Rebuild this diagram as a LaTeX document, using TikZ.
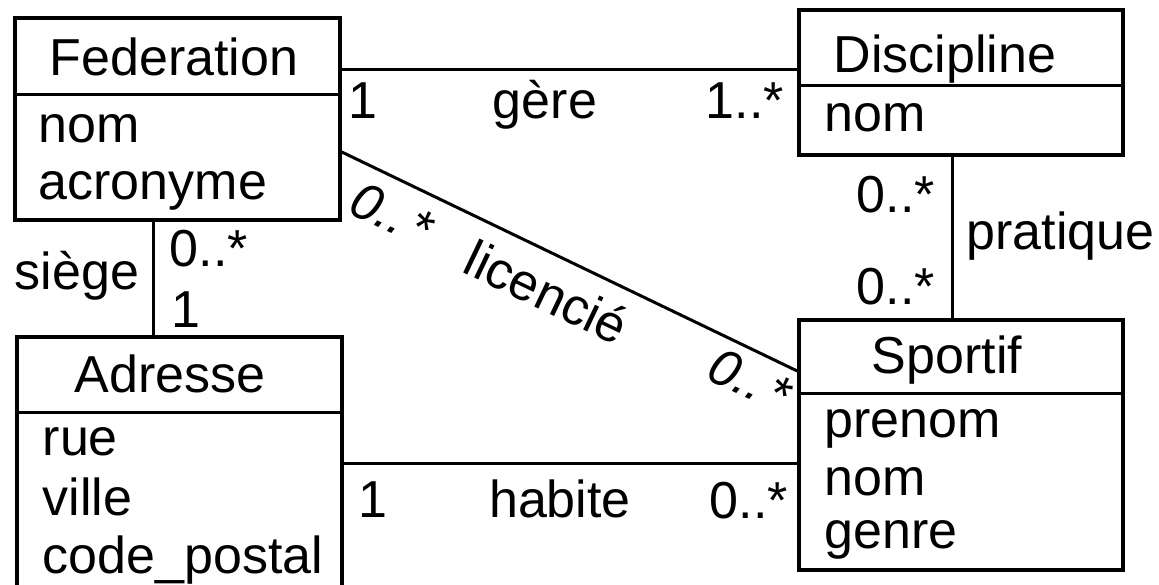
\documentclass[tikz,border=0pt]{standalone}
\usepackage{fontspec}
\setmainfont{Liberation Sans}
\begin{document}
\begin{tikzpicture}[x=1pt,y=-1pt,line width=3.5pt,
  cls/.style={draw,rectangle,inner sep=0pt},
  txt/.style={anchor=base west,inner sep=0pt,font=\fontsize{52}{62}\selectfont},
  ctxt/.style={anchor=base,inner sep=0pt,font=\fontsize{52}{62}\selectfont},
  rtxt/.style={anchor=center,inner sep=0pt,rotate=-25.5,font=\fontsize{52}{62}\selectfont},
  assoc/.style={draw,line width=3pt}]
\useasboundingbox (0,0) rectangle (1159,585);
% class boxes
\node[cls,minimum width=325pt,minimum height=202pt] (fed) at (177.5,119) {};
\node[cls,minimum width=324pt,minimum height=145pt] (disc) at (961,82.5) {};
\node[cls,minimum width=325pt,minimum height=263pt] (adr) at (179.5,468.5) {};
\node[cls,minimum width=324pt,minimum height=250pt] (sport) at (961,445) {};
% dividers
\draw[line width=3pt] (fed.west |- 0,95) -- (fed.east |- 0,95);
\draw[line width=3pt] (disc.west |- 0,86) -- (disc.east |- 0,86);
\draw[line width=3pt] (adr.west |- 0,412) -- (adr.east |- 0,412);
\draw[line width=3pt] (sport.west |- 0,393) -- (sport.east |- 0,393);
% class texts
\node[txt] (fedT) at (48,76) {Federation};
\node[txt] (fedA1) at (37,143) {nom};
\node[txt] (fedA2) at (37,200) {acronyme};
\node[txt] (discT) at (832,73) {Discipline};
\node[txt] (discA1) at (823,132) {nom};
\node[txt] (adrT) at (73,392) {Adresse};
\node[txt] (adrA1) at (41,455) {rue};
\node[txt] (adrA2) at (41,515) {ville};
\node[txt] (adrA3) at (41,573) {code\_postal};
\node[txt] (sportT) at (870,373) {Sportif};
\node[txt] (sportA1) at (823,437) {prenom};
\node[txt] (sportA2) at (823,495) {nom};
\node[txt] (sportA3) at (823,548) {genre};
% connectors
\draw[assoc] ([yshift=49pt]fed.east) -- ([yshift=12.5pt]disc.west);
\draw[assoc] ([yshift=-33pt]fed.east) -- ([yshift=74pt]sport.west);
\draw[assoc] ([xshift=-24.5pt]fed.south) -- ([xshift=-26.5pt]adr.north);
\draw[assoc] ([xshift=-9pt]disc.south) -- ([xshift=-9pt]sport.north);
\draw[assoc] ([yshift=5.5pt]adr.east) -- ([yshift=-18pt]sport.west);
% association labels
\node[txt] (l1) at (347,119) {1};
\node[ctxt] (l2) at (545,119) {gère};
\node[txt] (l3) at (704,119) {1..*};
\node[txt] (l4) at (855,213) {0..*};
\node[txt] (l5) at (965,250) {pratique};
\node[txt] (l6) at (855,305) {0..*};
\node[txt] (l7) at (13,290) {siège};
\node[txt] (l8) at (168,267) {0..*};
\node[txt] (l9) at (170,327) {1};
\node[txt] (l10) at (357,517) {1};
\node[ctxt] (l11) at (560,517) {habite};
\node[txt] (l12) at (708,518) {0..*};
\node[rtxt,font=\fontsize{52}{62}\selectfont\itshape] (l13) at (392,214) {0..\hspace{6pt}*};
\node[rtxt] (l14) at (547,292) {licencié};
\node[rtxt,font=\fontsize{52}{62}\selectfont\itshape] (l15) at (750,380) {0..\hspace{6pt}*};
\end{tikzpicture}
\end{document}
